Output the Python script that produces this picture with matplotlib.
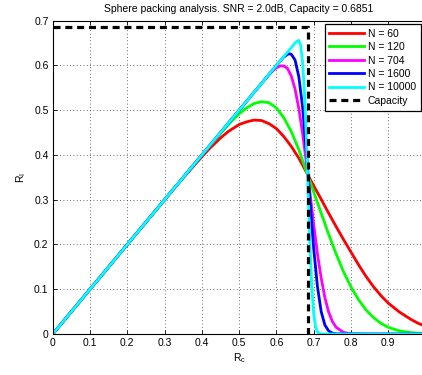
import matplotlib
matplotlib.use("Agg")
import matplotlib.pyplot as plt

plt.rcParams['font.family'] = ['Liberation Sans', 'DejaVu Sans']
plt.rcParams['font.size'] = 7.5

# capacity (bits per channel use) at SNR = 2.0 dB
capacity = 0.6851

# R_c values and R_I, one pair of lists per block length
rc_60 = [0, 0.1, 0.2, 0.3, 0.35, 0.4, 0.42, 0.45, 0.47, 0.5, 0.52, 0.54, 0.56, 0.58, 0.6, 0.62, 0.64,
         0.66, 0.68, 0.70, 0.72, 0.74, 0.76, 0.78, 0.80, 0.82, 0.84, 0.86, 0.88, 0.90, 0.93, 0.96,
         0.98, 1.0]
ri_60 = [0, 0.1, 0.2, 0.300, 0.349, 0.396, 0.414, 0.438, 0.452, 0.468, 0.474, 0.478, 0.477, 0.470,
         0.459, 0.441, 0.419, 0.393, 0.362, 0.331, 0.301, 0.270, 0.240, 0.211, 0.183, 0.155, 0.129,
         0.106, 0.086, 0.069, 0.049, 0.033, 0.024, 0.017]

rc_120 = [0, 0.1, 0.2, 0.3, 0.4, 0.45, 0.48, 0.5, 0.52, 0.54, 0.56, 0.58, 0.6, 0.62, 0.64, 0.66,
          0.68, 0.70, 0.72, 0.74, 0.76, 0.78, 0.80, 0.82, 0.84, 0.86, 0.88, 0.90, 0.93, 0.96, 1.0]
ri_120 = [0, 0.1, 0.2, 0.3, 0.400, 0.448, 0.476, 0.492, 0.505, 0.515, 0.519, 0.517, 0.505, 0.483,
          0.452, 0.412, 0.364, 0.317, 0.270, 0.223, 0.179, 0.139, 0.105, 0.077, 0.054, 0.037,
          0.024, 0.015, 0.007, 0.003, 0.001]

rc_704 = [0, 0.1, 0.2, 0.3, 0.4, 0.5, 0.55, 0.57, 0.59, 0.60, 0.61, 0.62, 0.63, 0.64, 0.65, 0.66,
          0.67, 0.68, 0.69, 0.70, 0.71, 0.72, 0.73, 0.74, 0.75, 0.76, 0.78, 0.80, 0.85, 1.0]
ri_704 = [0, 0.1, 0.2, 0.3, 0.4, 0.5, 0.55, 0.570, 0.588, 0.595, 0.599, 0.599, 0.593, 0.576, 0.547,
          0.504, 0.449, 0.385, 0.315, 0.244, 0.179, 0.125, 0.081, 0.049, 0.028, 0.015, 0.0035,
          0.0006, 0, 0]

rc_1600 = [0, 0.1, 0.2, 0.3, 0.4, 0.5, 0.58, 0.60, 0.61, 0.62, 0.63, 0.635, 0.64, 0.65, 0.66, 0.67,
           0.68, 0.69, 0.70, 0.71, 0.72, 0.73, 0.74, 0.75, 0.76, 0.8, 1.0]
ri_1600 = [0, 0.1, 0.2, 0.3, 0.4, 0.5, 0.58, 0.600, 0.610, 0.619, 0.625, 0.626, 0.625, 0.612, 0.575,
           0.508, 0.410, 0.298, 0.190, 0.106, 0.050, 0.020, 0.007, 0.002, 0.0005, 0, 0]

rc_10000 = [0, 0.1, 0.2, 0.3, 0.4, 0.5, 0.6, 0.64, 0.645, 0.65, 0.655, 0.66, 0.665, 0.67, 0.675,
            0.68, 0.685, 0.69, 0.695, 0.70, 0.705, 0.71, 0.715, 0.72, 0.8, 1.0]
ri_10000 = [0, 0.1, 0.2, 0.3, 0.4, 0.5, 0.6, 0.640, 0.645, 0.650, 0.654, 0.656, 0.645, 0.608, 0.543,
            0.441, 0.316, 0.196, 0.102, 0.045, 0.016, 0.005, 0.001, 0, 0, 0]

curves = [
    (rc_60, ri_60, "N = 60", "#ff0000"),
    (rc_120, ri_120, "N = 120", "#00ff00"),
    (rc_704, ri_704, "N = 704", "#ff00ff"),
    (rc_1600, ri_1600, "N = 1600", "#0000ff"),
    (rc_10000, ri_10000, "N = 10000", "#00ffff"),
]

fig = plt.figure(figsize=(4.22, 3.75), dpi=100)
# axes run a little past the right edge of the picture, like the original
ax = fig.add_axes([0.1249, 0.1093, 0.8836, 0.8355])

for rc, ri, name, col in curves:
    ax.plot(rc, ri, color=col, lw=2, label=name)

# the capacity box: horizontal at R_I = C and vertical at R_c = C
ax.plot([0, capacity, capacity], [capacity, capacity, 0], color="black", lw=2.3,
        linestyle=(0, (2.2, 1.5)), label="Capacity")

ax.set_xlim(0, 1)
ax.set_ylim(0, 0.7)
# the "1" tick falls outside the picture, so only 0..0.9 get a label
ax.set_xticks([i / 10 for i in range(10)])
ax.set_yticks([i / 10 for i in range(8)])
ax.set_xticklabels(["0", "0.1", "0.2", "0.3", "0.4", "0.5", "0.6", "0.7", "0.8", "0.9"])
ax.set_yticklabels(["0", "0.1", "0.2", "0.3", "0.4", "0.5", "0.6", "0.7"])
ax.tick_params(direction="in", length=3, width=0.6, top=True, right=True, pad=3)
ax.grid(True, linestyle=(0, (1, 3)), color="0.25", lw=0.6)
for s in ax.spines.values():
    s.set_linewidth(0.8)

ax.set_xlabel(r"$\mathregular{R_c}$", labelpad=2)
ax.set_ylabel(r"$\mathregular{R_I}$", labelpad=4)
ax.set_title("Sphere packing analysis. SNR = 2.0dB, Capacity = 0.6851", fontsize=7.5, pad=6)

leg = ax.legend(loc="upper right", bbox_to_anchor=(0.987, 0.9895), borderaxespad=0,
                fancybox=False, framealpha=1, edgecolor="black", handlelength=3.3,
                handletextpad=0.4, labelspacing=0.33, borderpad=0.45, fontsize=7.5)
leg.get_frame().set_linewidth(0.9)

fig.savefig("out.png", dpi=100)
